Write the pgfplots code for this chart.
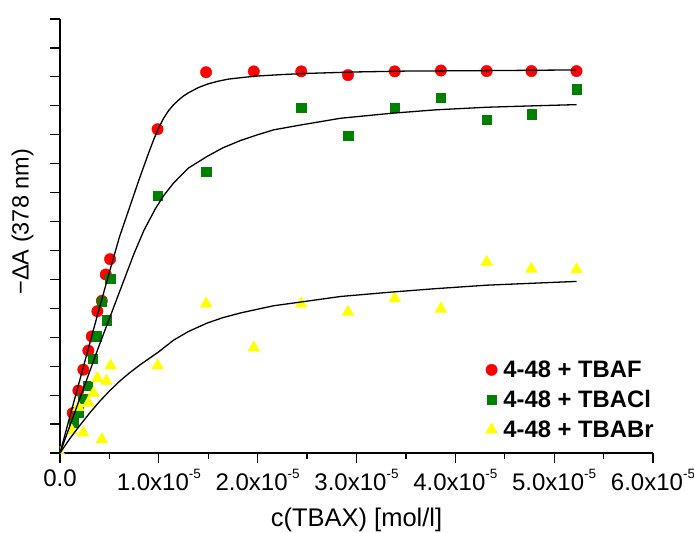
\documentclass[border=0pt]{standalone}
\usepackage{pgfplots}
\pgfplotsset{compat=1.18}
\usepackage{fontspec}
\setmainfont{Liberation Sans}
\definecolor{pred}{RGB}{255,0,0}
\definecolor{pgreen}{RGB}{0,128,0}
\definecolor{pyellow}{RGB}{255,255,0}
\newcommand\sci[1]{#1x10\raisebox{11.5bp}{\fontsize{13.5bp}{13.5bp}\selectfont -5}}
\begin{document}
\begin{tikzpicture}
\useasboundingbox (-60bp,-80bp) rectangle (634bp,453bp);
\begin{axis}[
  at={(0,0)}, anchor=south west,
  scale only axis, width=593bp, height=434bp,
  axis x line=bottom, axis y line=left,
  axis line style={-, line width=1.2bp},
  xmin=0, xmax=6, ymin=0, ymax=15,
  clip marker paths=true,
  xtick={0,1,2,3,4,5,6},
  xticklabels={0.0,\sci{1.0},\sci{2.0},\sci{3.0},\sci{4.0},\sci{5.0},\sci{6.0}},
  minor x tick num=1,
  ytick={0,1,...,15}, yticklabels={},
  tick align=outside,
  major tick length=10bp, minor tick length=6bp,
  every tick/.style={black, line width=1.2bp},
  tick label style={font=\fontsize{24bp}{28bp}\selectfont},
  xticklabel style={yshift=-3bp},
  xlabel={c(TBAX) [mol/l]},
  ylabel={−ΔA (378 nm)},
  xlabel style={at={(axis description cs:0.5,-0.1698)}, anchor=base, font=\fontsize{25.5bp}{28bp}\selectfont},
  ylabel style={at={(axis description cs:-0.0531,0.533)}, anchor=base, font=\fontsize{23.5bp}{27bp}\selectfont},
  legend style={at={(axis description cs:0.7125,0.222)}, anchor=north west, draw=none, fill=none,
    font=\bfseries\fontsize{23.8bp}{27bp}\selectfont, row sep=7.5bp, column sep=4bp},
  legend cell align=left,
]
\addplot[only marks, mark=*, mark size=5.7bp, color=pred, mark options={fill=pred, draw=pred}] coordinates {
(0.129,1.38) (0.186,2.16) (0.236,2.88) (0.287,3.54) (0.321,4.03) (0.378,4.90) (0.423,5.26) (0.463,6.17) (0.507,6.70)
(0.987,11.19) (1.478,13.16) (1.961,13.19) (2.441,13.19) (2.914,13.06) (3.387,13.19) (3.854,13.22) (4.317,13.20) (4.770,13.20) (5.226,13.20)
};
\addlegendentry{4-48 + TBAF}
\addplot[only marks, mark=square*, mark size=4.7bp, color=pgreen, mark options={fill=pgreen, draw=pgreen}] coordinates {
(0.138,1.04) (0.186,1.41) (0.233,1.87) (0.279,2.33) (0.331,3.26) (0.373,4.03) (0.423,5.22) (0.470,4.59) (0.507,6.02)
(0.987,8.90) (1.478,9.73) (2.441,11.93) (2.914,10.96) (3.387,11.93) (3.854,12.27) (4.317,11.52) (4.770,11.71) (5.226,12.58)
};
\addlegendentry{4-48 + TBACl}
\addplot[only marks, mark=triangle*, mark size=6.8bp, color=pyellow, mark options={fill=pyellow, draw=pyellow}] coordinates {
(0,0) (0.118,0.78) (0.186,1.58) (0.236,0.70) (0.287,1.73) (0.339,2.07) (0.378,2.58) (0.423,0.47) (0.470,2.49) (0.512,3.02)
(0.987,3.02) (1.478,5.16) (1.961,3.64) (2.441,5.16) (2.914,4.87) (3.387,5.34) (3.854,4.98) (4.317,6.60) (4.770,6.36) (5.226,6.34)
};
\addlegendentry{4-48 + TBABr}
\addplot[no marks, black, line width=1.3bp, forget plot] coordinates {
(0,0) (0.2,2.52) (0.4,5.03) (0.5,6.25) (0.6,7.45) (0.7,8.45) (0.8,9.45) (0.9,10.4) (0.95,10.85) (1.0,11.25) (1.05,11.58)
(1.1,11.84) (1.15,12.04) (1.2,12.2) (1.25,12.34) (1.3,12.45) (1.4,12.63) (1.5,12.76) (1.6,12.85) (1.7,12.92) (1.85,12.98)
(2.0,13.03) (2.25,13.08) (2.5,13.12) (3.0,13.17) (3.5,13.2) (4.0,13.21) (4.5,13.22) (5.226,13.24)
};
\addplot[no marks, black, line width=1.3bp, forget plot] coordinates {
(0,0) (0.2,1.88) (0.4,3.75) (0.6,5.55) (0.75,6.9) (0.85,7.7) (0.963,8.43) (1.05,8.9) (1.149,9.33) (1.3,9.85) (1.488,10.25)
(1.65,10.55) (1.826,10.80) (2.0,11.0) (2.163,11.17) (2.441,11.34) (2.84,11.57) (3.347,11.74) (3.8,11.86) (4.317,11.95) (4.8,12.0) (5.226,12.04)
};
\addplot[no marks, black, line width=1.3bp, forget plot] coordinates {
(0,0) (0.1,0.5) (0.2,0.95) (0.3,1.38) (0.4,1.78) (0.5,2.14) (0.6,2.47) (0.7,2.76) (0.811,3.05) (1.0,3.5) (1.149,3.9) (1.3,4.2)
(1.488,4.49) (1.65,4.68) (1.826,4.84) (2.0,4.97) (2.163,5.09) (2.441,5.22) (2.84,5.41) (3.347,5.56) (3.8,5.68) (4.317,5.8) (4.8,5.87) (5.226,5.93)
};
\end{axis}
\end{tikzpicture}
\end{document}
